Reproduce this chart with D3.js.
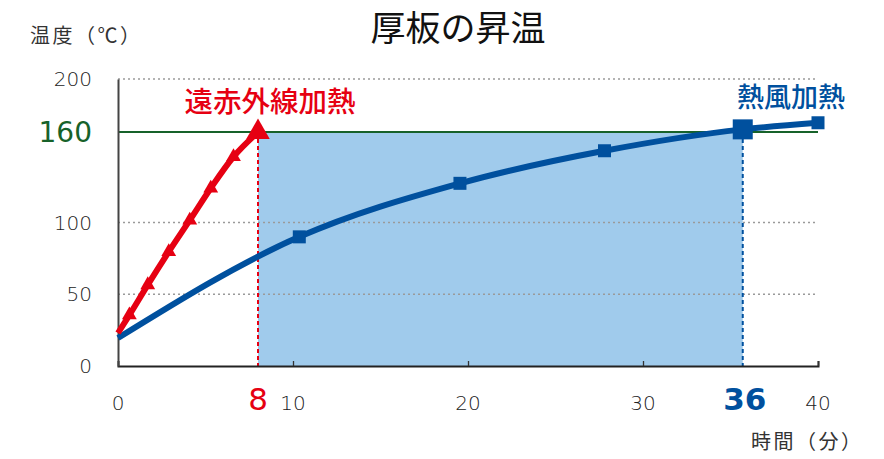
<!DOCTYPE html>
<html>
<head>
<meta charset="utf-8">
<script src="https://cdn.jsdelivr.net/npm/d3@7"></script>
<style>
  body { margin: 0; background: #fff; }
  svg { font-family: "Noto Sans CJK JP", "Noto Sans", sans-serif; }
  .num { font-family: "DejaVu Sans", sans-serif; }
</style>
</head>
<body>
<svg id="chart" width="884" height="459"></svg>
<script>
// data
var xTicks = [0, 10, 20, 30, 40];
var yTicks = [0, 50, 100, 200];
var yGrid = [50, 100, 200];
var targetTemp = 163;      // the 160 line sits slightly above 160 in the picture
var targetLabel = "160";
var irTime = 8, irLabel = "8";
var hotTime = 35.7, hotLabel = "36";
var irTimes = [0, 0.65, 1.7, 2.9, 4.1, 5.3, 6.6, 8];
var irTemps = [23, 35.5, 56.5, 79.6, 101.6, 123.9, 145.8, 163];
var hotTimes = [0, 10.36, 19.54, 27.8, 35.7, 40];
var hotTemps = [19.5, 90, 127.3, 150, 164.9, 169.5];

var red = "#e60012", blue = "#00509e", green = "#17622a", textCol = "#333";

var svg = d3.select("#chart");
var x = d3.scaleLinear().domain([0, 40]).range([118, 818]);
var y = d3.scaleLinear().domain([0, 200]).range([366, 79]);

// shaded area between 8 and 36 min
svg.append("rect")
    .attr("x", x(irTime))
    .attr("y", y(targetTemp))
    .attr("width", x(hotTime) - x(irTime))
    .attr("height", y(0) - y(targetTemp))
    .attr("fill", "#a0cbec");

// dotted grid
svg.selectAll(".grid")
  .data(yGrid)
  .enter().append("line")
    .attr("class", "grid")
    .attr("x1", x(0)).attr("x2", x(40))
    .attr("y1", function(d) { return y(d); })
    .attr("y2", function(d) { return y(d); })
    .attr("stroke", "#9a9a9a")
    .attr("stroke-width", 1.3)
    .attr("stroke-dasharray", "2,3");

// target line
svg.append("line")
    .attr("x1", x(0)).attr("x2", x(40))
    .attr("y1", y(targetTemp)).attr("y2", y(targetTemp))
    .attr("stroke", green).attr("stroke-width", 2);

// vertical markers
svg.append("line")
    .attr("x1", x(irTime)).attr("x2", x(irTime))
    .attr("y1", y(targetTemp)).attr("y2", y(0))
    .attr("stroke", red).attr("stroke-width", 2)
    .attr("stroke-dasharray", "4,3");
svg.append("line")
    .attr("x1", x(hotTime)).attr("x2", x(hotTime))
    .attr("y1", y(targetTemp)).attr("y2", y(0))
    .attr("stroke", blue).attr("stroke-width", 2)
    .attr("stroke-dasharray", "4,3");

// axes
var xAxis = svg.append("g")
    .attr("transform", "translate(0," + y(0) + ")")
    .call(d3.axisBottom(x).tickValues(xTicks.slice(1)).tickSize(-5).tickFormat(""));
xAxis.select(".domain").attr("stroke", "#222").attr("stroke-width", 2);
xAxis.selectAll(".tick line").attr("stroke", "#333").attr("stroke-width", 1.3);

var yAxis = svg.append("g")
    .attr("transform", "translate(" + x(0) + ",0)")
    .call(d3.axisLeft(y).tickValues([]).tickSize(0));
yAxis.select(".domain").attr("stroke", "#444").attr("stroke-width", 2);

// tick labels
svg.selectAll(".ylab")
  .data(yTicks)
  .enter().append("text")
    .attr("class", "num")
    .attr("x", 92)
    .attr("y", function(d) { return y(d); })
    .attr("dy", "0.36em")
    .attr("text-anchor", "end")
    .attr("fill", "#222")
    .style("font-size", "20px")
    .style("font-weight", 200)
    .text(function(d) { return d; });
svg.selectAll(".xlab")
  .data(xTicks)
  .enter().append("text")
    .attr("class", "num")
    .attr("x", function(d) { return x(d); })
    .attr("y", 410)
    .attr("text-anchor", "middle")
    .attr("fill", "#222")
    .style("font-size", "20px")
    .style("font-weight", 200)
    .text(function(d) { return d; });

svg.append("text")
    .attr("class", "num")
    .attr("x", 92).attr("y", y(targetTemp)).attr("dy", "0.36em")
    .attr("text-anchor", "end").attr("fill", green)
    .style("font-size", "28px")
    .text(targetLabel);
svg.append("text")
    .attr("class", "num")
    .attr("x", x(irTime)).attr("y", 410)
    .attr("text-anchor", "middle").attr("fill", red)
    .style("font-size", "31px")
    .text(irLabel);
svg.append("text")
    .attr("class", "num")
    .attr("x", x(hotTime) + 2).attr("y", 410)
    .attr("text-anchor", "middle").attr("fill", blue)
    .style("font-size", "31px").style("font-weight", 700)
    .text(hotLabel);

// lines
var line = d3.line()
    .x(function(d) { return x(d[0]); })
    .y(function(d) { return y(d[1]); })
    .curve(d3.curveMonotoneX);

var hotData = d3.zip(hotTimes, hotTemps);
var irData = d3.zip(irTimes, irTemps);

svg.append("path")
    .datum(hotData)
    .attr("d", line)
    .attr("fill", "none").attr("stroke", blue).attr("stroke-width", 6);
svg.append("path")
    .datum(irData)
    .attr("d", line)
    .attr("fill", "none").attr("stroke", red).attr("stroke-width", 6);

// markers
var hotMarks = hotData.slice(1);
svg.selectAll(".sq")
  .data(hotMarks)
  .enter().append("rect")
    .attr("fill", blue)
    .attr("width", function(d) { return d[0] === hotTime ? 20 : 13; })
    .attr("height", function(d) { return d[0] === hotTime ? 20 : 13; })
    .attr("x", function(d) { return x(d[0]) - (d[0] === hotTime ? 10 : 6.5); })
    .attr("y", function(d) { return y(d[1]) - (d[0] === hotTime ? 10 : 6.5); });

var irMarks = irData.slice(1);
var tri = d3.symbol().type(d3.symbolTriangle);
svg.selectAll(".tri")
  .data(irMarks)
  .enter().append("path")
    .attr("fill", red)
    .attr("transform", function(d) { return "translate(" + x(d[0]) + "," + y(d[1]) + ")"; })
    .attr("d", function(d) { return tri.size(d[0] === irTime ? 240 : 95)(); });

// labels
svg.append("text")
    .attr("x", 458).attr("y", 41)
    .attr("text-anchor", "middle").attr("fill", "#111")
    .style("font-size", "35px")
    .text("厚板の昇温");
svg.append("text")
    .attr("x", 30).attr("y", 43)
    .attr("fill", textCol)
    .style("font-size", "20px")
    .style("letter-spacing", "2.5px")
    .text("温度（℃）");
svg.append("text")
    .attr("x", 751).attr("y", 449)
    .attr("fill", textCol)
    .style("font-size", "20px")
    .style("letter-spacing", "2.5px")
    .text("時間（分）");
svg.append("text")
    .attr("x", 270).attr("y", 112)
    .attr("text-anchor", "middle").attr("fill", red)
    .style("font-size", "28.5px").style("font-weight", 500)
    .text("遠赤外線加熱");
svg.append("text")
    .attr("x", 791).attr("y", 107)
    .attr("text-anchor", "middle").attr("fill", blue)
    .style("font-size", "27px").style("font-weight", 500)
    .text("熱風加熱");
</script>
</body>
</html>
